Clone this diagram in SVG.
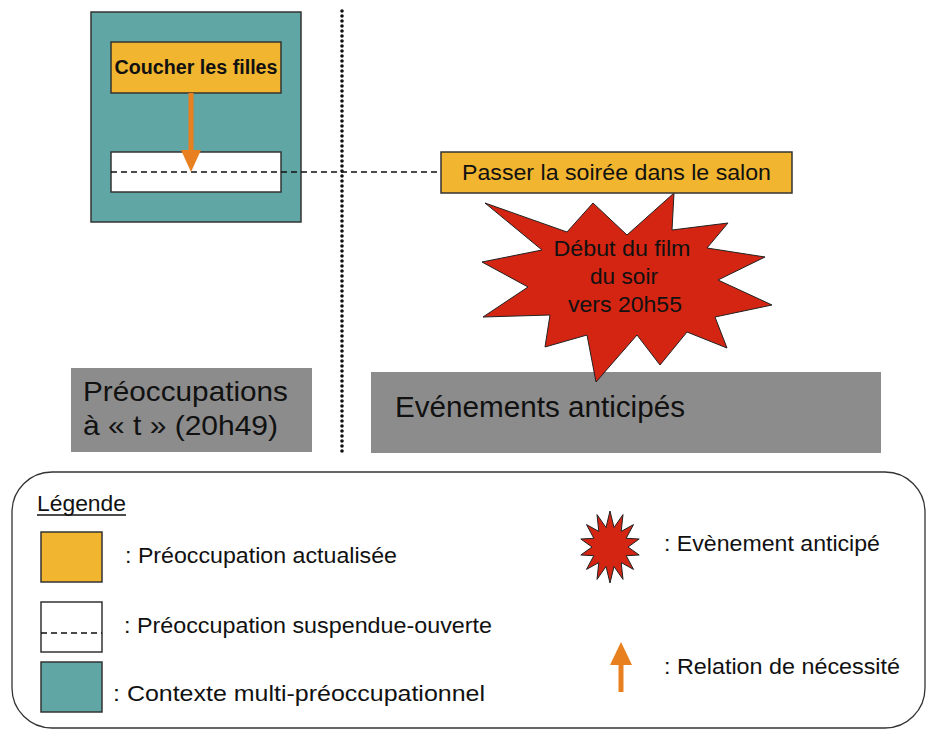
<svg xmlns="http://www.w3.org/2000/svg" width="928" height="729" viewBox="0 0 928 729">
<style>
text { font-family: "Liberation Sans", Arial, sans-serif; fill: #111; }
.teal { fill: #60a6a4; stroke: #333; stroke-width: 1.5; }
.orange { fill: #f1b52f; stroke: #333; stroke-width: 1.5; }
.white { fill: #fff; stroke: #333; stroke-width: 1.5; }
.gray { fill: #8c8c8c; }
.star { fill: #d42412; stroke: #222; stroke-width: 1; }
.dash { stroke: #111; stroke-width: 1.3; stroke-dasharray: 6 4; fill: none; }
.arrow { fill: #e8801f; stroke: none; }
.lbl { font-size: 22px; }
</style>
<rect width="928" height="729" fill="#fff"/>

<g id="separator">
  <line x1="342" y1="11" x2="342" y2="455" stroke="#111" stroke-width="3.6" stroke-linecap="round" stroke-dasharray="0 5"/>
</g>

<g id="context">
  <rect class="teal" x="91" y="12" width="210" height="210"/>
</g>
<g id="coucher">
  <rect class="orange" x="111" y="42" width="170" height="51"/>
  <text x="196" y="74" font-size="19.5" font-weight="bold" text-anchor="middle" textLength="163" lengthAdjust="spacingAndGlyphs">Coucher les filles</text>
</g>
<g id="suspendue">
  <rect class="white" x="111" y="152" width="170" height="40"/>
</g>

<g id="label-preoccupations">
  <rect class="gray" x="71" y="368" width="241" height="84"/>
  <text x="83" y="401" font-size="28" textLength="205" lengthAdjust="spacingAndGlyphs">Préoccupations</text>
  <text x="83" y="435" font-size="28" textLength="195" lengthAdjust="spacingAndGlyphs">à « t » (20h49)</text>
</g>
<g id="label-evenements">
  <rect class="gray" x="371" y="372" width="510" height="81"/>
  <text x="395" y="417" font-size="29" textLength="290" lengthAdjust="spacingAndGlyphs">Evénements anticipés</text>
</g>

<g id="evenement-film">
  <polygon class="star" points="485,203 567,232 593,203 627,235 674,193 672,230 728,223 707,248 765,257 718,280 772,305 715,317 727,348 687,332 660,365 637,335 596,382 587,335 545,347 550,315 483,317 528,287 482,262 542,250"/>
  <text x="622" y="256" font-size="22" text-anchor="middle" textLength="137" lengthAdjust="spacingAndGlyphs">Début du film</text>
  <text x="624" y="284" font-size="22" text-anchor="middle" textLength="68" lengthAdjust="spacingAndGlyphs">du soir</text>
  <text x="625" y="312" font-size="22" text-anchor="middle" textLength="114" lengthAdjust="spacingAndGlyphs">vers 20h55</text>
</g>

<g id="passer">
  <rect class="orange" x="441" y="152" width="351" height="41"/>
  <text x="462" y="180" font-size="22" textLength="309" lengthAdjust="spacingAndGlyphs">Passer la soirée dans le salon</text>
</g>

<g id="connectors">
  <line class="dash" x1="111" y1="172" x2="441" y2="172"/>
  <line x1="191" y1="93" x2="191" y2="152" stroke="#e8801f" stroke-width="5"/>
  <polygon class="arrow" points="181,150 201,150 191,172"/>
</g>

<g id="legende">
  <rect x="12" y="472" width="913" height="256" rx="40" ry="40" fill="none" stroke="#333" stroke-width="1.3"/>
  <text class="lbl" x="37" y="511" textLength="89" lengthAdjust="spacingAndGlyphs">Légende</text>
  <line x1="37" y1="515" x2="126" y2="515" stroke="#111" stroke-width="1.3"/>

  <rect class="orange" x="41" y="532" width="61" height="50"/>
  <text class="lbl" x="125" y="563" textLength="272" lengthAdjust="spacingAndGlyphs">: Préoccupation actualisée</text>

  <rect class="white" x="41" y="602" width="61" height="50"/>
  <line class="dash" x1="41" y1="633" x2="102" y2="633" stroke-dasharray="7 4"/>
  <text class="lbl" x="124" y="633" textLength="368" lengthAdjust="spacingAndGlyphs">: Préoccupation suspendue-ouverte</text>

  <rect class="teal" x="41" y="662" width="61" height="50"/>
  <text class="lbl" x="113" y="701" textLength="372" lengthAdjust="spacingAndGlyphs">: Contexte multi-préoccupationnel</text>

  <polygon class="star" points="610,511 614,527.5 623,514.6 621.2,531.4 633.5,524.6 626.2,538.3 639.2,539 628,547 639.2,555 626.2,555.7 633.5,569.4 621.2,562.6 623,579.4 614,566.5 610,583 606,566.5 597,579.4 598.8,562.6 586.5,569.4 593.8,555.7 580.8,555 592,547 580.8,539 593.8,538.3 586.5,524.6 598.8,531.4 597,514.6 606,527.5"/>
  <text class="lbl" x="664" y="551" textLength="216" lengthAdjust="spacingAndGlyphs">: Evènement anticipé</text>

  <line x1="621" y1="662" x2="621" y2="692" stroke="#e8801f" stroke-width="5"/>
  <polygon class="arrow" points="610,665 632,665 621,642"/>
  <text class="lbl" x="664" y="674" textLength="236" lengthAdjust="spacingAndGlyphs">: Relation de nécessité</text>
</g>
</svg>
